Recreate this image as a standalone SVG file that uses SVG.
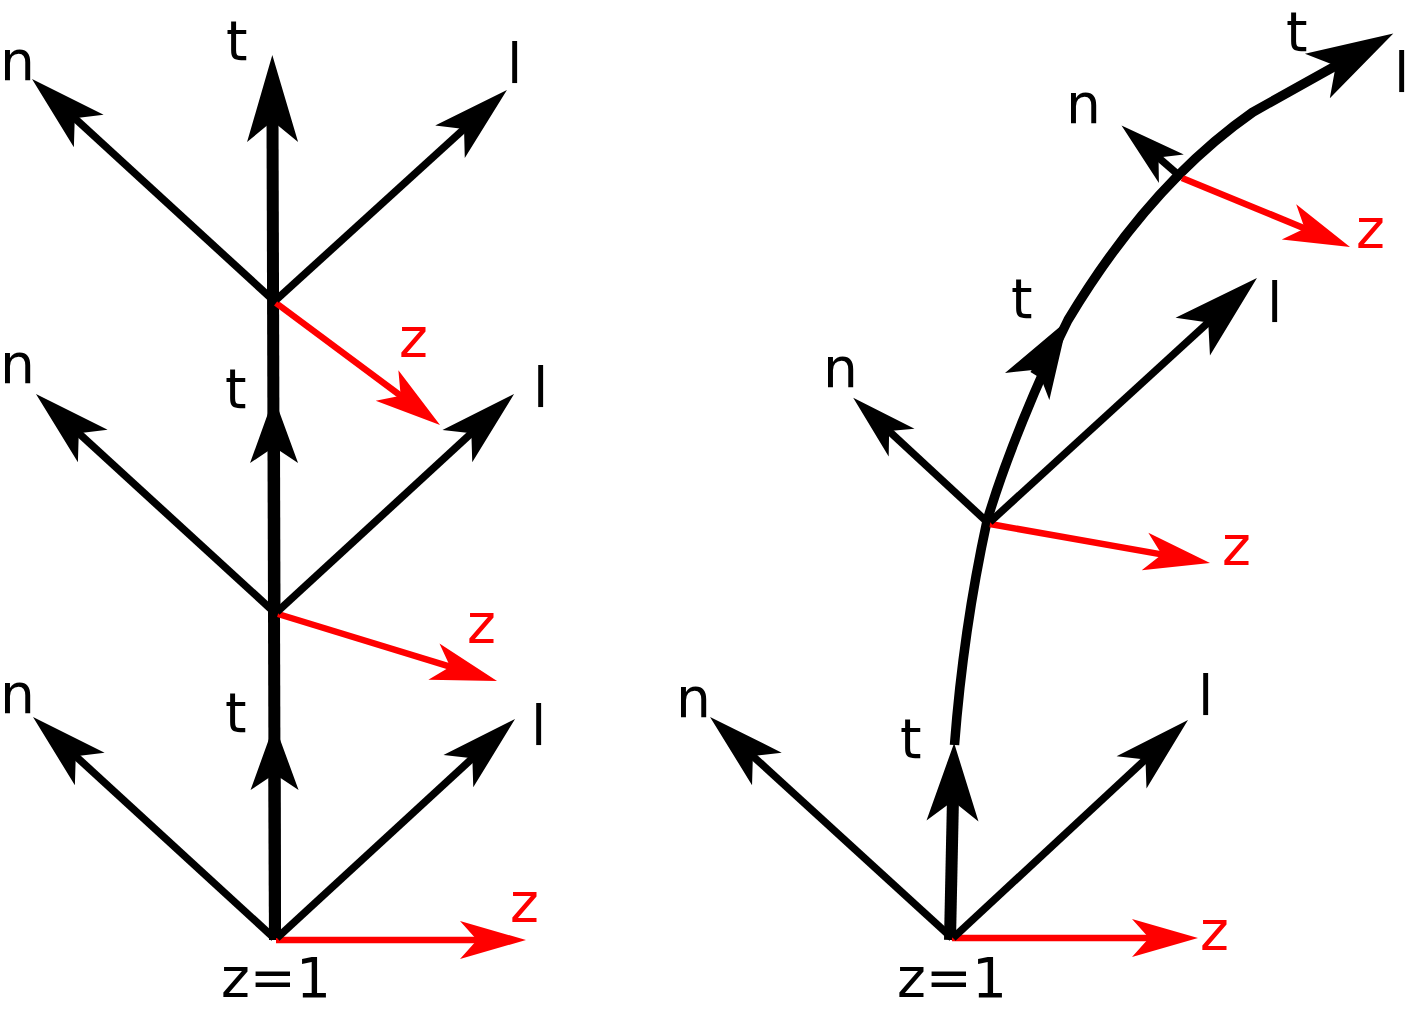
<svg xmlns="http://www.w3.org/2000/svg" width="1409" height="1011" viewBox="0 0 1409 1011">
<defs>
<style>
.ax{fill:none;stroke:#000;stroke-width:7.5}
.rz{fill:none;stroke:#f00;stroke-width:6.5}
.sp{fill:none;stroke:#000;stroke-width:12}
.cv{fill:none;stroke:#000;stroke-width:9.5}
text{font-family:"DejaVu Sans","Liberation Sans",sans-serif;font-size:55px;fill:#000}
text.r{fill:#f00}
</style>
<marker id="an" markerUnits="userSpaceOnUse" orient="auto" overflow="visible" markerWidth="10" markerHeight="10" refX="0" refY="0"><path d="M54,0 L-23,-22 L-4,0 L-23,22 Z" fill="#000"/></marker>
<marker id="as" markerUnits="userSpaceOnUse" orient="auto" overflow="visible" markerWidth="10" markerHeight="10" refX="0" refY="0"><path d="M45,0 L-21,-19 L-4,0 L-21,19 Z" fill="#000"/></marker>
<marker id="ar" markerUnits="userSpaceOnUse" orient="auto" overflow="visible" markerWidth="10" markerHeight="10" refX="0" refY="0"><path d="M45,0 L-21,-19 L-4,0 L-21,19 Z" fill="#f00"/></marker>
<marker id="aL" markerUnits="userSpaceOnUse" orient="auto" overflow="visible" markerWidth="10" markerHeight="10" refX="0" refY="0"><path d="M62,0 L-25,-25.5 L-4,0 L-25,25.5 Z" fill="#000"/></marker>
<marker id="aM" markerUnits="userSpaceOnUse" orient="auto" overflow="visible" markerWidth="10" markerHeight="10" refX="0" refY="0"><path d="M54,0 L-24,-26 L-4,0 L-24,26 Z" fill="#000"/></marker>
<marker id="aS" markerUnits="userSpaceOnUse" orient="auto" overflow="visible" markerWidth="10" markerHeight="10" refX="0" refY="0"><path d="M46,0 L-20,-24 L-4,0 L-20,24 Z" fill="#000"/></marker>
</defs>
<rect width="1409" height="1011" fill="#fff"/>

<g id="connectors">
<path class="sp" d="M275,940 L272.5,117" marker-end="url(#aL)"/>
<path class="sp" d="M950,940 L953,797" marker-end="url(#aM)"/>
<path class="cv" d="M954.5,745 C961,660 972,590 987,521 C1005,460 1038,380 1068,320 C1110,250 1170,170 1253,112 L1339.2,63.8" marker-end="url(#aL)"/>
<path class="cv" d="M1034.5,374.5 L1039.7,366" marker-end="url(#aM)"/>
</g>

<g id="frame-left-top">
<path class="rz" d="M276,303 L403.9,398.1" marker-end="url(#ar)"/>
<path class="ax" d="M273,300 L71.8,115.5" marker-end="url(#an)"/>
<path class="ax" d="M276,300 L467,126.3" marker-end="url(#an)"/>
<text x="0" y="80">n</text>
<text x="226" y="60">t</text>
<text x="507" y="83">l</text>
<text class="r" x="399" y="357">z</text>
</g>

<g id="frame-left-middle">
<path class="rz" d="M278,614 L454,667.8" marker-end="url(#ar)"/>
<path class="ax" d="M274,612 L75.8,430.5" marker-end="url(#an)"/>
<path class="ax" d="M277,612 L474.3,430.6" marker-end="url(#an)"/>
<path class="sp" d="M274.5,612 L274,443" marker-end="url(#aS)"/>
<text x="0" y="383">n</text>
<text x="225" y="408">t</text>
<text x="533" y="407">l</text>
<text class="r" x="467" y="643">z</text>
</g>

<g id="frame-left-bottom">
<path class="rz" d="M276,940 L481,940" marker-end="url(#ar)"/>
<path class="ax" d="M274,938 L72.8,753.5" marker-end="url(#an)"/>
<path class="ax" d="M277,938 L475.3,755.6" marker-end="url(#an)"/>
<path class="sp" d="M275,938 L274.5,770" marker-end="url(#aS)"/>
<text x="0" y="713">n</text>
<text x="225" y="732">t</text>
<text x="531" y="745">l</text>
<text class="r" x="510" y="922">z</text>
<text x="221" y="997">z=1</text>
</g>

<g id="frame-right-bottom">
<path class="rz" d="M952,938 L1153,938" marker-end="url(#ar)"/>
<path class="ax" d="M952,938 L749.9,753.4" marker-end="url(#an)"/>
<path class="ax" d="M953,938 L1148.4,756.7" marker-end="url(#an)"/>
<text x="676" y="717">n</text>
<text x="900" y="758">t</text>
<text x="1198" y="715">l</text>
<text class="r" x="1200" y="950">z</text>
<text x="897" y="997">z=1</text>
</g>

<g id="frame-right-middle">
<path class="rz" d="M990,524 L1165.7,555.1" marker-end="url(#ar)"/>
<path class="ax" d="M985,520 L886.2,428.4" marker-end="url(#as)"/>
<path class="ax" d="M990,522 L1211.2,319.8" marker-end="url(#aL)"/>
<text x="823" y="387">n</text>
<text x="1011" y="318">t</text>
<text x="1267" y="322">l</text>
<text class="r" x="1222" y="565">z</text>
</g>

<g id="frame-right-top">
<path class="rz" d="M1182,178 L1308.4,229.9" marker-end="url(#ar)"/>
<path class="ax" d="M1182,178 L1155.5,155" marker-end="url(#as)"/>
<text x="1066" y="123">n</text>
<text x="1286" y="51">t</text>
<text x="1394" y="92">l</text>
<text class="r" x="1356" y="248">z</text>
</g>
</svg>
